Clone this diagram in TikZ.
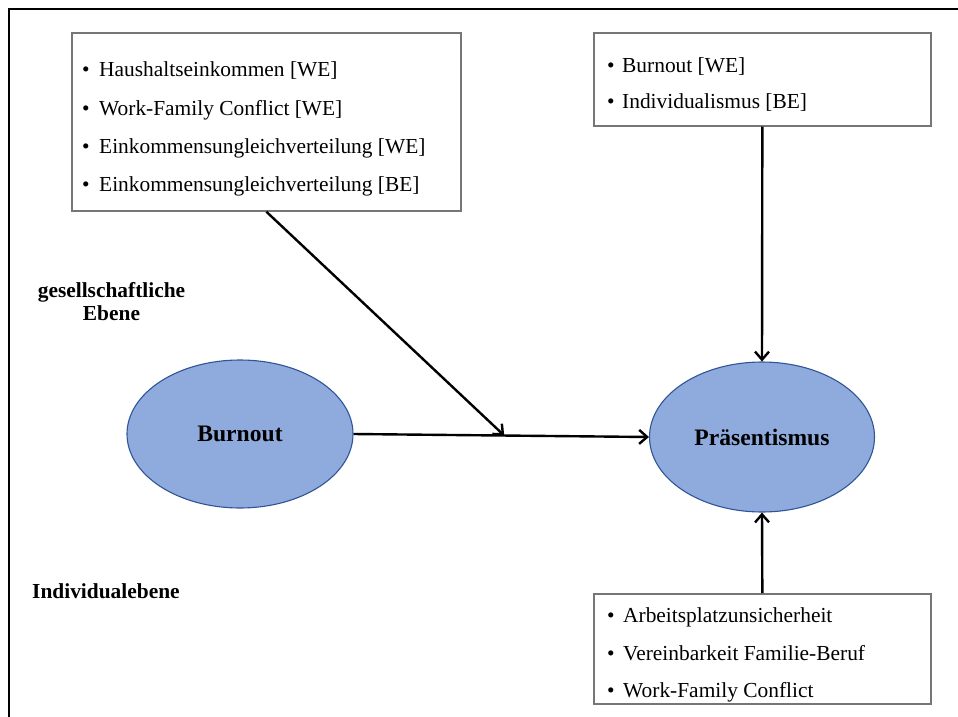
\documentclass[tikz,border=0pt]{standalone}
\usepackage{fontspec}
\setmainfont{Liberation Serif}
\usetikzlibrary{shapes.geometric,arrows.meta,calc}

\definecolor{boxgray}{RGB}{118,118,118}
\definecolor{ellfill}{RGB}{143,170,220}
\definecolor{elledge}{RGB}{47,85,151}

\begin{document}
\begin{tikzpicture}[x=1pt,y=-1pt,
  itembox/.style={draw=boxgray,line width=1.7pt,anchor=north west,inner sep=0pt},
  itemtext/.style={anchor=base west,inner sep=0pt,font=\fontsize{21.4}{25}\selectfont},
  construct/.style={ellipse,draw=elledge,line width=1.1pt,fill=ellfill,inner sep=0pt,
    font=\fontsize{23.6}{28}\selectfont\bfseries},
  levellabel/.style={inner sep=0pt,font=\fontsize{21.4}{25}\selectfont\bfseries},
  link/.style={line width=2.4pt,-{Straight Barb[length=8pt,width=14pt,line width=2.4pt]}}
]
\useasboundingbox (0,0) rectangle (958,717);

% outer frame (left and top edges)
\draw[line width=2.8pt] (9,717) -- (9,9) -- (958,9);

% moderator boxes
\node[itembox,minimum width=389pt,minimum height=178pt] (box1) at (71,32) {};
\node[itembox,minimum width=337pt,minimum height=93pt] (box2) at (593,32) {};
\node[itembox,minimum width=337pt,minimum height=110pt] (box3) at (593,593) {};

% items of box 1
\node[itemtext] (b1a) at (82,77) {•};
\node[itemtext] (t1a) at (99,77) {Haushaltseinkommen [WE]};
\node[itemtext] (b1b) at (82,115) {•};
\node[itemtext] (t1b) at (99,115) {Work-Family Conflict [WE]};
\node[itemtext] (b1c) at (82,153) {•};
\node[itemtext] (t1c) at (99,153) {Einkommensungleichverteilung [WE]};
\node[itemtext] (b1d) at (82,191) {•};
\node[itemtext] (t1d) at (99,191) {Einkommensungleichverteilung [BE]};

% items of box 2
\node[itemtext] (b2a) at (607,72) {•};
\node[itemtext] (t2a) at (622,72) {Burnout [WE]};
\node[itemtext] (b2b) at (607,108) {•};
\node[itemtext] (t2b) at (622,108) {Individualismus [BE]};

% items of box 3
\node[itemtext] (b3a) at (607,622) {•};
\node[itemtext] (t3a) at (623,622) {Arbeitsplatzunsicherheit};
\node[itemtext] (b3b) at (607,660) {•};
\node[itemtext] (t3b) at (623,660) {Vereinbarkeit Familie-Beruf};
\node[itemtext] (b3c) at (607,697) {•};
\node[itemtext] (t3c) at (623,697) {Work-Family Conflict};

% level labels
\node[levellabel,anchor=base] (lvl1a) at (111.5,297) {gesellschaftliche};
\node[levellabel,anchor=base] (lvl1b) at (111.5,320) {Ebene};
\node[levellabel,anchor=base west] (lvl2) at (32,598) {Individualebene};

% constructs
\node[construct,minimum width=226pt,minimum height=148pt] (burnout) at (240,434) {Burnout};
\node[construct,minimum width=225pt,minimum height=150pt] (praes) at (762,437) {Präsentismus};

% paths
\draw[link] (burnout.east) -- (praes.west);
\coordinate (mid) at ($(burnout.east)!0.51!(praes.west)$);
\draw[link] (box1.south) -- (mid);
\draw[link] (box2.south) -- (praes.north);
\draw[link] (box3.north) -- (praes.south);
\end{tikzpicture}
\end{document}
